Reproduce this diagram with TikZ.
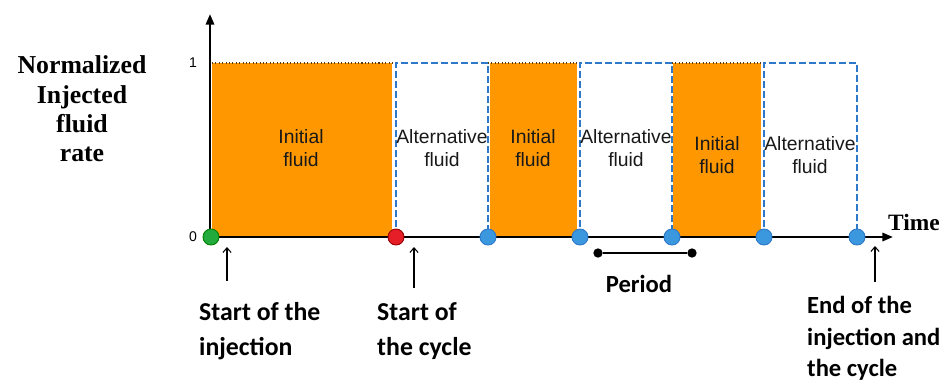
\documentclass[tikz,border=0pt]{standalone}
\usepackage{fontspec}
\setmainfont{Liberation Serif}
\setsansfont{Liberation Sans}
\newfontfamily\calibri{Carlito}
\usetikzlibrary{arrows.meta}
\definecolor{fluidorange}{RGB}{255,152,0}
\definecolor{altblue}{RGB}{45,120,200}
\definecolor{dotblue}{RGB}{60,152,222}
\definecolor{dotgreen}{RGB}{34,170,60}
\definecolor{dotred}{RGB}{230,30,40}
\definecolor{topbrown}{RGB}{90,60,20}

\begin{document}
\begin{tikzpicture}[
    x=0.03cm, y=-0.03cm,
    fluid/.style={fill=fluidorange},
    altbox/.style={draw=altblue, line width=1.6pt, dash pattern=on 6pt off 2.5pt},
    toprate/.style={draw=topbrown, line width=0.9pt, dotted},
    axis/.style={line width=2pt, -{Triangle[length=9pt,width=7pt]}},
    pointer/.style={line width=0.9pt, -{Straight Barb[length=4pt,width=7pt]}},
    switch/.style={circle, draw=altblue, fill=dotblue, line width=0.8pt, minimum size=0.48cm, inner sep=0pt},
    bardot/.style={circle, fill=black, minimum size=0.28cm, inner sep=0pt},
    fluidlabel/.style={font=\sffamily\fontsize{16.5}{19}\selectfont, align=center, text=black!90},
    ratelabel/.style={font=\bfseries\fontsize{22}{25}\selectfont, align=center},
    note/.style={font=\calibri\bfseries\fontsize{22}{30}\selectfont, align=left, anchor=north west, inner sep=0pt}
]
\useasboundingbox (0,0) rectangle (949,383);

% injected fluid blocks
\fill[fluid] (212,63) rectangle (392,237);
\fill[fluid] (490,63) rectangle (577,237);
\fill[fluid] (673,63) rectangle (761,237);
\draw[toprate] (212,63) -- (396,63);
\draw[toprate] (488,63) -- (580,63);
\draw[toprate] (672,63) -- (764,63);

% alternative fluid blocks
\draw[altbox] (396,237) -- (396,63) -- (488,63) -- (488,237);
\draw[altbox] (580,237) -- (580,63) -- (672,63) -- (672,237);
\draw[altbox] (764,237) -- (764,63) -- (857,63) -- (857,237);

\node[fluidlabel] (init1) at (301,148) {Initial\\fluid};
\node[fluidlabel] (alt1) at (442,148) {Alternative\\fluid};
\node[fluidlabel] (init2) at (533,148) {Initial\\fluid};
\node[fluidlabel] (alt2) at (626,148) {Alternative\\fluid};
\node[fluidlabel] (init3) at (717,155) {Initial\\fluid};
\node[fluidlabel] (alt3) at (810,155) {Alternative\\fluid};

% axes
\coordinate (origin) at (210,237);
\coordinate (ytip) at (210,14);
\coordinate (xtip) at (893,237);
\draw[axis] (origin) -- (ytip);
\draw[axis] (origin) -- (xtip);
\node[font=\sffamily\fontsize{12}{14}\selectfont] (zero) at (193,237) {0};
\node[font=\sffamily\fontsize{12}{14}\selectfont] (one) at (193,63) {1};
\node[ratelabel] (rate) at (82,109) {Normalized\\Injected\\fluid\\rate};
\node[font=\bfseries\fontsize{20}{24}\selectfont] (time) at (914,222) {Time};

% switching points
\node[switch, draw=green!50!black, fill=dotgreen] (inj) at (211,237) {};
\node[switch, draw=red!60!black, fill=dotred] (cyc) at (396,237) {};
\node[switch] (s1) at (488,237) {};
\node[switch] (s2) at (580,237) {};
\node[switch] (s3) at (672,237) {};
\node[switch] (s4) at (764,237) {};
\node[switch] (s5) at (857,237) {};

% period
\node[bardot] (p1) at (598,253) {};
\node[bardot] (p2) at (692,253) {};
\draw[line width=2pt] (p1) -- (p2);
\node[font=\calibri\bfseries\fontsize{21}{25}\selectfont] (period) at (639,284) {Period};

% notes
\node[note] (startinj) at (199,302) {Start of the\\injection};
\node[note] (startcyc) at (377,302) {Start of\\the cycle};
\node[note, font=\calibri\bfseries\fontsize{21}{27}\selectfont] (endinj) at (807,296) {End of the\\injection and\\the cycle};
\coordinate (a1) at (227,281);
\coordinate (b1) at (227,247);
\coordinate (a2) at (414,288);
\coordinate (b2) at (414,247);
\coordinate (a3) at (875,282);
\coordinate (b3) at (875,246);
\draw[pointer] (a1) -- (b1);
\draw[pointer] (a2) -- (b2);
\draw[pointer] (a3) -- (b3);
\end{tikzpicture}
\end{document}
